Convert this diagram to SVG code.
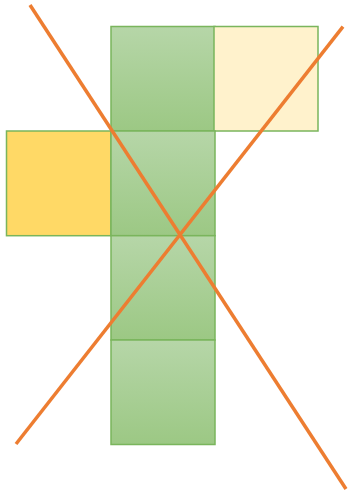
<svg xmlns="http://www.w3.org/2000/svg" width="348" height="492" viewBox="0 0 348 492">
<defs>
<linearGradient id="g" x1="0" y1="0" x2="0" y2="1">
<stop offset="0" stop-color="#b6d6a8"/>
<stop offset="1" stop-color="#9cc884"/>
</linearGradient>
<style>
.sq{stroke:#7ab55c;stroke-width:1.5}
.gr{fill:url(#g)}
.ln{stroke:#ed7d31;stroke-width:3.5;fill:none}
</style>
</defs>
<g id="nodes">
<g id="g1"><rect class="sq gr" x="111" y="26.5" width="104" height="104.5"/></g>
<g id="ly"><rect class="sq" fill="#fff2cc" x="214" y="26.5" width="104" height="104.5"/></g>
<g id="gold"><rect class="sq" fill="#ffd966" x="6.5" y="131" width="104.5" height="104.7"/></g>
<g id="g2"><rect class="sq gr" x="111" y="131" width="104" height="104.7"/></g>
<g id="g3"><rect class="sq gr" x="111" y="235.7" width="104" height="104.3"/></g>
<g id="g4"><rect class="sq gr" x="111" y="340" width="104" height="104.5"/></g>
</g>
<g id="connectors">
<line class="ln" x1="30" y1="5" x2="346" y2="489"/>
<line class="ln" x1="343" y1="26.7" x2="16" y2="444"/>
</g>
</svg>
